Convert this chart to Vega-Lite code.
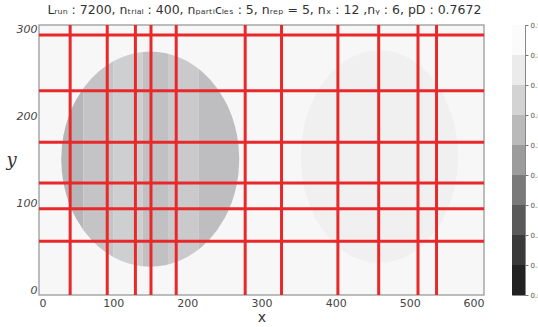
{
  "$schema": "https://vega.github.io/schema/vega-lite/v6.json",
  "background": "white",
  "padding": {"left": 5, "top": 4, "right": 0, "bottom": 0},
  "title": {"text": "Lᵣᵤₙ : 7200, nₜᵣᵢₐₗ : 400, nₚₐᵣₜᵢcₗₑₛ : 5, nᵣₑₚ = 5, nₓ : 12 ,nᵧ : 6, pD : 0.7672", "font": "DejaVu Sans", "fontSize": 12.5, "fontWeight": "normal", "color": "#333333", "anchor": "middle", "offset": 4, "dx": -9},
  "bounds": "flush",
  "spacing": 28,
  "resolve": {"scale": {"color": "independent"}},
  "config": {
    "view": {"stroke": "#a8a8a8", "strokeWidth": 1.5},
    "axis": {"grid": false, "domain": false, "ticks": false, "labelColor": "#444444", "titleColor": "#333333", "labelFont": "DejaVu Sans", "titleFont": "DejaVu Sans", "titleFontWeight": "normal"}
  },
  "datasets": {
    "disc": [
      {"x": 30, "lo": 151, "hi": 151, "band": "A"},
      {"x": 31, "lo": 135.1, "hi": 166.9, "band": "A"},
      {"x": 33, "lo": 123.6, "hi": 178.4, "band": "A"},
      {"x": 36, "lo": 112.4, "hi": 189.6, "band": "A"},
      {"x": 40, "lo": 101.6, "hi": 200.4, "band": "A"},
      {"x": 45, "lo": 91.2, "hi": 210.8, "band": "A"},
      {"x": 50, "lo": 82.7, "hi": 219.3, "band": "A"},
      {"x": 60, "lo": 69.3, "hi": 232.7, "band": "A"},
      {"x": 60, "lo": 69.3, "hi": 232.7, "band": "B"},
      {"x": 70, "lo": 58.9, "hi": 243.1, "band": "B"},
      {"x": 80, "lo": 50.7, "hi": 251.3, "band": "B"},
      {"x": 90, "lo": 44.0, "hi": 258.0, "band": "B"},
      {"x": 100, "lo": 38.7, "hi": 263.3, "band": "B"},
      {"x": 100, "lo": 38.7, "hi": 263.3, "band": "C"},
      {"x": 110, "lo": 34.6, "hi": 267.4, "band": "C"},
      {"x": 120, "lo": 31.4, "hi": 270.6, "band": "C"},
      {"x": 130, "lo": 29.2, "hi": 272.8, "band": "C"},
      {"x": 140, "lo": 27.9, "hi": 274.1, "band": "C"},
      {"x": 140, "lo": 27.9, "hi": 274.1, "band": "D"},
      {"x": 150, "lo": 27.5, "hi": 274.5, "band": "D"},
      {"x": 160, "lo": 27.9, "hi": 274.1, "band": "D"},
      {"x": 170, "lo": 29.2, "hi": 272.8, "band": "D"},
      {"x": 175, "lo": 30.2, "hi": 271.8, "band": "D"},
      {"x": 175, "lo": 30.2, "hi": 271.8, "band": "E"},
      {"x": 180, "lo": 31.4, "hi": 270.6, "band": "E"},
      {"x": 190, "lo": 34.6, "hi": 267.4, "band": "E"},
      {"x": 200, "lo": 38.7, "hi": 263.3, "band": "E"},
      {"x": 210, "lo": 44.0, "hi": 258.0, "band": "E"},
      {"x": 215, "lo": 47.2, "hi": 254.8, "band": "E"},
      {"x": 215, "lo": 47.2, "hi": 254.8, "band": "F"},
      {"x": 220, "lo": 50.7, "hi": 251.3, "band": "F"},
      {"x": 230, "lo": 58.9, "hi": 243.1, "band": "F"},
      {"x": 240, "lo": 69.3, "hi": 232.7, "band": "F"},
      {"x": 250, "lo": 82.7, "hi": 219.3, "band": "F"},
      {"x": 255, "lo": 91.2, "hi": 210.8, "band": "F"},
      {"x": 260, "lo": 101.6, "hi": 200.4, "band": "F"},
      {"x": 264, "lo": 112.4, "hi": 189.6, "band": "F"},
      {"x": 267, "lo": 123.6, "hi": 178.4, "band": "F"},
      {"x": 269, "lo": 135.1, "hi": 166.9, "band": "F"},
      {"x": 270, "lo": 151, "hi": 151, "band": "F"}
    ],
    "ghost": [
      {"x": 353, "lo": 154, "hi": 154},
      {"x": 354, "lo": 136.8, "hi": 171.2},
      {"x": 358, "lo": 115.9, "hi": 192.1},
      {"x": 364, "lo": 100.8, "hi": 207.2},
      {"x": 374, "lo": 80.8, "hi": 227.2},
      {"x": 385, "lo": 66.9, "hi": 241.1},
      {"x": 395, "lo": 56.4, "hi": 251.6},
      {"x": 406, "lo": 48.3, "hi": 259.7},
      {"x": 417, "lo": 42.1, "hi": 265.9},
      {"x": 427, "lo": 37.6, "hi": 270.4},
      {"x": 438, "lo": 34.4, "hi": 273.6},
      {"x": 448, "lo": 32.6, "hi": 275.4},
      {"x": 459, "lo": 32, "hi": 276},
      {"x": 470, "lo": 32.6, "hi": 275.4},
      {"x": 480, "lo": 34.4, "hi": 273.6},
      {"x": 491, "lo": 37.6, "hi": 270.4},
      {"x": 501, "lo": 42.1, "hi": 265.9},
      {"x": 512, "lo": 48.3, "hi": 259.7},
      {"x": 523, "lo": 56.4, "hi": 251.6},
      {"x": 533, "lo": 66.9, "hi": 241.1},
      {"x": 544, "lo": 80.8, "hi": 227.2},
      {"x": 554, "lo": 100.8, "hi": 207.2},
      {"x": 560, "lo": 115.9, "hi": 192.1},
      {"x": 564, "lo": 136.8, "hi": 171.2},
      {"x": 565, "lo": 154, "hi": 154}
    ],
    "vlines": [
      {"x": 42}, {"x": 92}, {"x": 130}, {"x": 151}, {"x": 185}, {"x": 278},
      {"x": 327}, {"x": 403}, {"x": 458}, {"x": 511}, {"x": 536}
    ],
    "hlines": [
      {"y": 293.5}, {"y": 229.6}, {"y": 170.3}, {"y": 123.6}, {"y": 94.1}, {"y": 56.7}
    ],
    "cbar": [
      {"lo": 0.0, "hi": 0.1, "band": "b1"},
      {"lo": 0.1, "hi": 0.2, "band": "b2"},
      {"lo": 0.2, "hi": 0.3, "band": "b3"},
      {"lo": 0.3, "hi": 0.4, "band": "b4"},
      {"lo": 0.4, "hi": 0.5, "band": "b5"},
      {"lo": 0.5, "hi": 0.6, "band": "b6"},
      {"lo": 0.6, "hi": 0.7, "band": "b7"},
      {"lo": 0.7, "hi": 0.8, "band": "b8"},
      {"lo": 0.8, "hi": 0.9, "band": "b9"}
    ]
  },
  "hconcat": [
    {
      "width": 445,
      "height": 270,
      "view": {"fill": "#f7f7f7"},
      "layer": [
        {
          "data": {"name": "ghost"},
          "mark": {"type": "area", "orient": "vertical", "color": "#f0f0f0"},
          "encoding": {
            "x": {"field": "x", "type": "quantitative", "scale": {"domain": [0, 600], "nice": false},
                  "axis": {"values": [0, 100, 200, 300, 400, 500, 600], "labelFontSize": 11, "labelPadding": 2, "title": "x", "titleFontSize": 14, "titlePadding": 2}},
            "y": {"field": "lo", "type": "quantitative", "scale": {"domain": [-5, 305], "nice": false, "zero": false},
                  "axis": {"values": [0, 100, 200, 300], "labelFontSize": 11, "labelFontStyle": "italic", "labelPadding": 2, "title": "y", "titleAngle": 0, "titleFont": "DejaVu Serif", "titleFontStyle": "italic", "titleFontSize": 18, "titleX": -28, "titleY": 135, "titleAlign": "center", "titleBaseline": "middle"}},
            "y2": {"field": "hi"}
          }
        },
        {
          "data": {"name": "disc"},
          "mark": {"type": "area", "orient": "vertical"},
          "encoding": {
            "x": {"field": "x", "type": "quantitative"},
            "y": {"field": "lo", "type": "quantitative"},
            "y2": {"field": "hi"},
            "color": {"field": "band", "type": "nominal", "legend": null,
                      "scale": {"domain": ["A", "B", "C", "D", "E", "F"], "range": ["#b6b6b8", "#c4c4c6", "#cecfd0", "#c1c1c3", "#cacacc", "#bebec0"]}}
          }
        },
        {
          "data": {"name": "vlines"},
          "mark": {"type": "rule", "color": "#e8292b", "strokeWidth": 3},
          "encoding": {"x": {"field": "x", "type": "quantitative"}}
        },
        {
          "data": {"name": "hlines"},
          "mark": {"type": "rule", "color": "#e8292b", "strokeWidth": 3},
          "encoding": {"y": {"field": "y", "type": "quantitative"}}
        }
      ]
    },
    {
      "width": 13,
      "height": 270,
      "data": {"name": "cbar"},
      "view": {"stroke": "#888888", "strokeWidth": 1},
      "mark": {"type": "rect"},
      "encoding": {
        "y": {"field": "lo", "type": "quantitative", "scale": {"domain": [0, 0.9], "nice": false},
              "axis": {"orient": "right", "values": [0, 0.1, 0.2, 0.3, 0.4, 0.5, 0.6, 0.7, 0.8, 0.9], "format": ".1f", "labelFontSize": 7, "labelColor": "#555555", "ticks": true, "tickSize": 3, "tickColor": "#777777", "labelPadding": 2, "title": null}},
        "y2": {"field": "hi"},
        "color": {"field": "band", "type": "nominal", "legend": null,
                  "scale": {"domain": ["b1", "b2", "b3", "b4", "b5", "b6", "b7", "b8", "b9"], "range": ["#222222", "#3a3a3a", "#5a5a5a", "#7a7a7a", "#9c9c9c", "#bababa", "#d3d3d3", "#ebebeb", "#fbfbfb"]}}
      }
    }
  ]
}
